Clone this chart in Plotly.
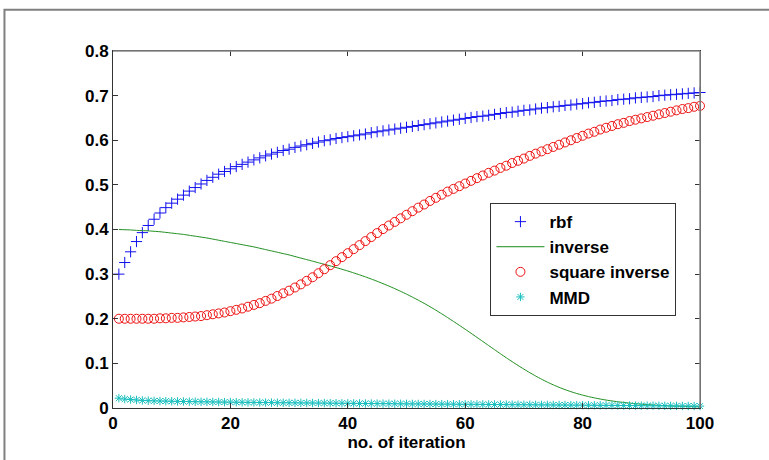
import plotly.graph_objects as go

iterations = list(range(1, 101))

rbf = [0.300, 0.326, 0.350, 0.373, 0.393, 0.409, 0.423, 0.437, 0.449, 0.459,
       0.468, 0.477, 0.486, 0.494, 0.502, 0.510, 0.517, 0.524, 0.530, 0.536,
       0.541, 0.546, 0.551, 0.556, 0.5605, 0.565, 0.569, 0.573, 0.577, 0.580,
       0.584, 0.587, 0.590, 0.593, 0.596, 0.599, 0.601, 0.604, 0.606, 0.608,
       0.610, 0.612, 0.614, 0.617, 0.619, 0.621, 0.623, 0.625, 0.627, 0.629,
       0.631, 0.633, 0.635, 0.637, 0.639, 0.641, 0.643, 0.645, 0.647, 0.649,
       0.651, 0.653, 0.654, 0.656, 0.658, 0.660, 0.662, 0.663, 0.665, 0.667,
       0.668, 0.670, 0.672, 0.673, 0.675, 0.676, 0.678, 0.679, 0.681, 0.682,
       0.684, 0.685, 0.687, 0.688, 0.689, 0.691, 0.692, 0.693, 0.695, 0.696,
       0.697, 0.698, 0.700, 0.701, 0.702, 0.703, 0.704, 0.705, 0.706, 0.707]

inverse = [0.400, 0.3995, 0.399, 0.398, 0.3975, 0.397, 0.396, 0.395, 0.3935, 0.392,
           0.3905, 0.389, 0.387, 0.385, 0.383, 0.381, 0.3785, 0.376, 0.3735, 0.371,
           0.3685, 0.366, 0.3635, 0.361, 0.358, 0.355, 0.352, 0.349, 0.346, 0.343,
           0.3395, 0.336, 0.3325, 0.329, 0.3255, 0.322, 0.3185, 0.3148, 0.311, 0.307,
           0.3028, 0.2984, 0.2938, 0.289, 0.284, 0.2787, 0.2732, 0.2675, 0.2615, 0.2552,
           0.2486, 0.2417, 0.2345, 0.227, 0.2192, 0.2111, 0.2027, 0.1941, 0.1853, 0.1764,
           0.1674, 0.1583, 0.1491, 0.1399, 0.1307, 0.1216, 0.1126, 0.1038, 0.0953, 0.0871,
           0.0792, 0.0717, 0.0646, 0.058, 0.0519, 0.0463, 0.0412, 0.0366, 0.0325, 0.0289,
           0.0256, 0.0227, 0.0201, 0.0178, 0.0158, 0.014, 0.0124, 0.011, 0.0097, 0.0086,
           0.0076, 0.0067, 0.0059, 0.0052, 0.0046, 0.0041, 0.0036, 0.0032, 0.0029, 0.0026]

square_inverse = [0.200, 0.200, 0.200, 0.200, 0.200, 0.200, 0.200, 0.201, 0.201, 0.202,
                  0.202, 0.203, 0.204, 0.205, 0.206, 0.208, 0.210, 0.212, 0.214, 0.217,
                  0.220, 0.223, 0.227, 0.231, 0.235, 0.240, 0.245, 0.251, 0.257, 0.263,
                  0.270, 0.277, 0.285, 0.293, 0.302, 0.311, 0.320, 0.329, 0.338, 0.347,
                  0.356, 0.365, 0.374, 0.383, 0.392, 0.401, 0.409, 0.417, 0.425, 0.433,
                  0.441, 0.449, 0.456, 0.464, 0.471, 0.478, 0.485, 0.491, 0.497, 0.503,
                  0.509, 0.515, 0.521, 0.527, 0.532, 0.538, 0.543, 0.549, 0.554, 0.559,
                  0.565, 0.570, 0.575, 0.580, 0.585, 0.590, 0.595, 0.600, 0.605, 0.610,
                  0.615, 0.619, 0.624, 0.628, 0.632, 0.636, 0.639, 0.643, 0.646, 0.649,
                  0.652, 0.655, 0.658, 0.661, 0.664, 0.667, 0.670, 0.672, 0.675, 0.677]

mmd = [0.022, 0.020, 0.019, 0.018, 0.017, 0.0165, 0.016, 0.0157, 0.0154, 0.0151,
       0.0148, 0.0146, 0.0144, 0.0142, 0.0140, 0.0138, 0.0136, 0.0134, 0.0132, 0.0131,
       0.0129, 0.0128, 0.0126, 0.0125, 0.0123, 0.0122, 0.0121, 0.0119, 0.0118, 0.0117,
       0.0116, 0.0114, 0.0113, 0.0112, 0.0111, 0.0110, 0.0108, 0.0107, 0.0106, 0.0105,
       0.0104, 0.0102, 0.0101, 0.0100, 0.0099, 0.0098, 0.0097, 0.0096, 0.0094, 0.0093,
       0.0092, 0.0091, 0.0090, 0.0089, 0.0088, 0.0087, 0.0086, 0.0085, 0.0084, 0.0083,
       0.0082, 0.0081, 0.0080, 0.0079, 0.0078, 0.0077, 0.0076, 0.0075, 0.0074, 0.0073,
       0.0072, 0.0071, 0.0070, 0.0069, 0.0068, 0.0067, 0.0066, 0.0065, 0.0064, 0.0063,
       0.0062, 0.0061, 0.0060, 0.0059, 0.0058, 0.0057, 0.0056, 0.0055, 0.0054, 0.0053,
       0.0052, 0.0051, 0.0050, 0.0049, 0.0048, 0.0047, 0.0046, 0.0045, 0.0044, 0.0043]

x_ticks = [0, 20, 40, 60, 80, 100]
y_ticks = [0, 0.1, 0.2, 0.3, 0.4, 0.5, 0.6, 0.7, 0.8]

FONT = "Liberation Sans, Arial, Helvetica, sans-serif"

fig = go.Figure()
fig.add_trace(go.Scatter(
    x=iterations, y=rbf, name="<b>rbf</b>", mode="markers", cliponaxis=False,
    marker=dict(symbol="cross-thin", size=8, color="#1010ee",
                line=dict(color="#1010ee", width=1))))
fig.add_trace(go.Scatter(
    x=iterations, y=inverse, name="<b>inverse</b>", mode="lines", cliponaxis=False,
    line=dict(color="#1a8c1a", width=1, shape="spline", smoothing=0.6)))
fig.add_trace(go.Scatter(
    x=iterations, y=square_inverse, name="<b>square inverse</b>", mode="markers",
    cliponaxis=False,
    marker=dict(symbol="circle-open", size=9, color="#ee1111",
                line=dict(color="#ee1111", width=1))))
fig.add_trace(go.Scatter(
    x=iterations, y=mmd, name="<b>MMD</b>", mode="markers", cliponaxis=False,
    marker=dict(symbol="asterisk-open", size=7, color="#19bfbf",
                line=dict(color="#19bfbf", width=1))))

axis_common = dict(
    showgrid=False, zeroline=False, ticks="inside", ticklen=5, tickwidth=1,
    tickcolor="#333333", linecolor="#333333", linewidth=1, mirror="ticks",
    tickfont=dict(family=FONT, size=17, color="black", weight="bold"),
)

fig.update_layout(
    width=769, height=460,
    margin=dict(l=113, r=69, t=51, b=52),
    paper_bgcolor="white", plot_bgcolor="white",
    font=dict(family=FONT, size=17, color="black"),
    xaxis=dict(range=[0, 100], tickvals=x_ticks, ticktext=[str(v) for v in x_ticks],
               title=dict(text="<b>no. of iteration</b>", standoff=0,
                          font=dict(family=FONT, size=17, color="black")),
               automargin=False, **axis_common),
    yaxis=dict(range=[0, 0.8], tickvals=y_ticks,
               ticktext=["0" if v == 0 else f"{v:.1f}" for v in y_ticks],
               automargin=False, **axis_common),
    legend=dict(x=0.643, y=0.574, xanchor="left", yanchor="top",
                bgcolor="white", bordercolor="#333333", borderwidth=1,
                font=dict(family=FONT, size=17, color="black"),
                itemwidth=48),
    showlegend=True,
    shapes=[
        dict(type="rect", xref="paper", yref="paper",
             x0=-0.1849, x1=1.3, y0=-0.3, y1=1.1154,
             line=dict(color="#808080", width=2), layer="below"),
        dict(type="line", xref="paper", yref="paper", x0=0, x1=1, y0=1, y1=1,
             line=dict(color="#8a8a8a", width=1.5), layer="above"),
        dict(type="line", xref="paper", yref="paper", x0=1, x1=1, y0=0, y1=1,
             line=dict(color="#8a8a8a", width=1.5), layer="above"),
    ],
)

fig.write_html("out.html", config={"displayModeBar": False},
               post_script="document.body.style.margin='0px';")
